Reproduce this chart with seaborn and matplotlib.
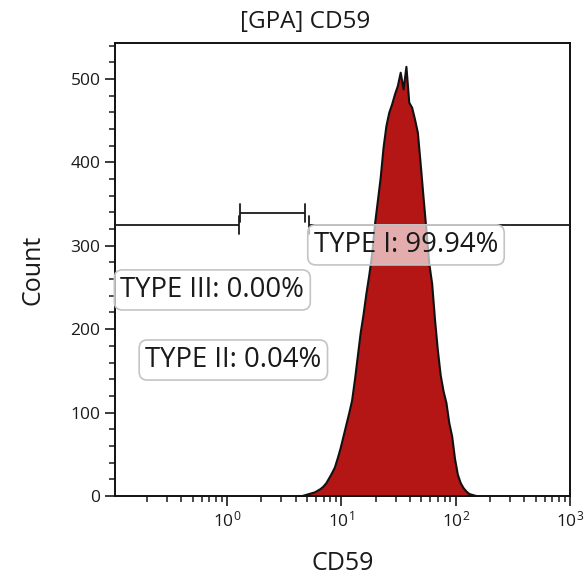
import numpy as np
import pandas as pd
import seaborn as sns
import matplotlib
matplotlib.use("Agg")
import matplotlib.pyplot as plt
from matplotlib.ticker import LogLocator, MultipleLocator, LogFormatterMathtext, NullFormatter

# ---------------- data ----------------
# histogram channels: log10(CD59) of first channel centre and channel width (decades)
log_first_channel = 0.615
log_channel_width = 0.025
counts = [0, 0, 1, 2, 3, 4, 5, 7, 9, 12,
          16, 22, 28, 35, 46, 58, 72, 86, 100, 115,
          140, 168, 196, 218, 243, 265, 290, 326, 354, 382,
          418, 444, 460, 470, 482, 492, 508, 488, 515, 472,
          466, 452, 436, 398, 358, 319, 279, 255, 212, 175,
          145, 126, 112, 88, 72, 45, 26, 16, 10, 6,
          3, 2, 1, 0]

# gates (CD59 range, Count level)
gate_names = ["TYPE III", "TYPE II", "TYPE I"]
gate_lo = [None, 1.29, 5.2]
gate_hi = [1.27, 4.8, None]
gate_level = [325, 339, 325]
gate_pct = ["0.00%", "0.04%", "99.94%"]
# label anchor positions (CD59, Count)
label_x = [0.117, 0.193, 5.75]
label_y = [247, 163, 301]

x_limits = (0.105, 1000)
y_limits = (0, 543)

# ---------------- build frame ----------------
log_channels = log_first_channel + log_channel_width * np.arange(len(counts))
df = pd.DataFrame({"CD59": 10 ** log_channels, "Count": counts})

sns.set_theme(style="ticks")
plt.rcParams["font.family"] = ["Open Sans", "DejaVu Sans"]

fig = plt.figure(figsize=(5.87, 5.8), dpi=100)
ax = fig.add_axes([115 / 587, 84 / 580, 455 / 587, 453 / 580])

lo_edge = log_first_channel - log_channel_width / 2
hi_edge = lo_edge + log_channel_width * len(counts)
sns.histplot(data=df, x="CD59", weights="Count", log_scale=True,
             binwidth=log_channel_width, binrange=(lo_edge, hi_edge),
             element="poly", fill=True, color="#b41616", alpha=1,
             edgecolor="#111111", linewidth=1.5, ax=ax)

ax.set_xlim(*x_limits)
ax.set_ylim(*y_limits)

# gates
tick_half = 11
for lo, hi, lev in zip(gate_lo, gate_hi, gate_level):
    a = x_limits[0] if lo is None else lo
    b = x_limits[1] if hi is None else hi
    ax.plot([a, b], [lev, lev], color="#1a1a1a", lw=1.3, solid_capstyle="butt", zorder=4)
    for e, v in ((a, lo), (b, hi)):
        if v is not None:
            ax.plot([e, e], [lev - tick_half, lev + tick_half], color="#1a1a1a", lw=1.3, zorder=4)

# gate labels
for name, pct, lx, ly in zip(gate_names, gate_pct, label_x, label_y):
    ax.text(lx, ly, f"{name}: {pct}", fontsize=19.8, color="#1a1a1a",
            ha="left", va="center", zorder=6,
            bbox=dict(boxstyle="round,pad=0.22,rounding_size=0.3",
                      fc=(1, 1, 1, 0.65), ec="#c4c4c4", lw=1.2))

# axes styling
ax.xaxis.set_major_locator(LogLocator(base=10, numticks=10))
ax.xaxis.set_minor_locator(LogLocator(base=10, subs=np.arange(2, 10), numticks=20))
ax.xaxis.set_major_formatter(LogFormatterMathtext())
ax.xaxis.set_minor_formatter(NullFormatter())
ax.yaxis.set_major_locator(MultipleLocator(100))
ax.yaxis.set_minor_locator(MultipleLocator(20))

ax.tick_params(which="major", direction="out", length=7, width=1.2, labelsize=12.5,
               colors="#1a1a1a", top=False, right=False)
ax.tick_params(which="minor", direction="out", length=4, width=1.1,
               top=False, right=False, colors="#1a1a1a")
for s in ax.spines.values():
    s.set_visible(True)
    s.set_linewidth(1.4)
    s.set_color("#111111")

ax.set_xlabel("CD59", fontsize=18, color="#1a1a1a", labelpad=15)
ax.set_ylabel("Count", fontsize=18, color="#1a1a1a", labelpad=18)
fig.text(305 / 587, 1 - 22 / 580, "[GPA] CD59", fontsize=17.5, color="#1a1a1a",
         ha="center", va="center")

fig.savefig("out.png", dpi=100)
